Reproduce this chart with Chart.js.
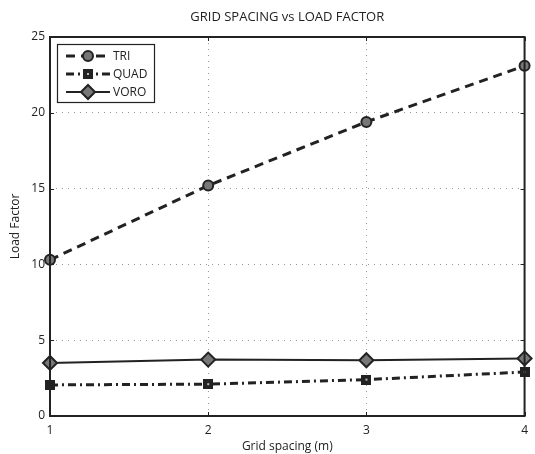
<!DOCTYPE html>
<html>
<head>
<meta charset="utf-8">
<script src="https://cdn.jsdelivr.net/npm/chart.js@4.4.1/dist/chart.umd.min.js"></script>
<style>
  html, body { margin: 0; padding: 0; background: #fff; }
  canvas { display: block; }
</style>
</head>
<body>
<canvas id="grafico" width="535" height="454"></canvas>
<script>
// valores
const espaciado = [1, 2, 3, 4];
const triValores = [10.3, 15.2, 19.4, 23.1];
const quadValores = [2.05, 2.1, 2.4, 2.9];
const voroValores = [3.5, 3.72, 3.68, 3.8];
const ticksY = [0, 5, 10, 15, 20, 25];
const ticksX = [1, 2, 3, 4];

const FUENTE = "'Open Sans', 'DejaVu Sans', sans-serif";
const NEGRO = '#222';
const GRIS = '#777';

// marcador cuadrado negro con punto claro al centro
function marcadorQuad() {
    const c = document.createElement('canvas');
    c.width = 10; c.height = 10;
    const g = c.getContext('2d');
    g.fillStyle = NEGRO;
    g.fillRect(0, 0, 10, 10);
    g.fillStyle = '#bbb';
    g.fillRect(4, 4, 2, 2);
    return c;
}
const imgQuad = marcadorQuad();

function puntos(xs, ys) {
    return xs.map((x, i) => ({ x: x, y: ys[i] }));
}

// caja del grafico, marcas de tick hacia adentro y leyenda
const cajaYLeyenda = {
    id: 'cajaYLeyenda',
    afterDraw(chart) {
        const ctx = chart.ctx;
        const a = chart.chartArea;
        const sx = chart.scales.x, sy = chart.scales.y;
        ctx.save();
        ctx.strokeStyle = NEGRO;
        ctx.lineWidth = 1;
        ctx.beginPath();
        ticksY.forEach(v => {
            const py = Math.round(sy.getPixelForValue(v)) + 0.5;
            ctx.moveTo(a.left, py); ctx.lineTo(a.left + 4, py);
            ctx.moveTo(a.right, py); ctx.lineTo(a.right - 4, py);
        });
        ticksX.forEach(v => {
            const px = Math.round(sx.getPixelForValue(v)) + 0.5;
            ctx.moveTo(px, a.bottom); ctx.lineTo(px, a.bottom - 4);
            ctx.moveTo(px, a.top); ctx.lineTo(px, a.top + 4);
        });
        ctx.stroke();
        ctx.lineWidth = 2;
        ctx.strokeRect(a.left, a.top, a.right - a.left, a.bottom - a.top);

        // titulo
        ctx.fillStyle = NEGRO;
        ctx.font = '13px ' + FUENTE;
        ctx.textAlign = 'center';
        ctx.textBaseline = 'middle';
        ctx.fillText('GRID SPACING vs LOAD FACTOR', (a.left + a.right) / 2, 17);

        // leyenda
        const lx = a.left + 7, ly = a.top + 7;
        ctx.fillStyle = '#fff';
        ctx.fillRect(lx, ly, 97, 58);
        ctx.lineWidth = 1.2;
        ctx.strokeStyle = NEGRO;
        ctx.strokeRect(lx + 0.5, ly + 0.5, 97, 58);
        chart.data.datasets.forEach((ds, i) => {
            const y = ly + 12 + i * 18;
            ctx.save();
            ctx.strokeStyle = ds.borderColor;
            ctx.lineWidth = ds.borderWidth;
            ctx.setLineDash(ds.borderDash || []);
            ctx.beginPath();
            ctx.moveTo(lx + 9, y); ctx.lineTo(lx + 53, y);
            ctx.stroke();
            ctx.restore();
            const mx = lx + 31;
            ctx.save();
            if (ds.pointStyle === 'circle') {
                ctx.beginPath();
                ctx.arc(mx, y, ds.pointRadius, 0, Math.PI * 2);
                ctx.fillStyle = ds.pointBackgroundColor;
                ctx.fill();
                ctx.lineWidth = ds.pointBorderWidth;
                ctx.strokeStyle = ds.pointBorderColor;
                ctx.stroke();
            } else if (ds.pointStyle === 'rectRot') {
                const r = ds.pointRadius;
                ctx.beginPath();
                ctx.moveTo(mx - r, y); ctx.lineTo(mx, y - r);
                ctx.lineTo(mx + r, y); ctx.lineTo(mx, y + r);
                ctx.closePath();
                ctx.fillStyle = ds.pointBackgroundColor;
                ctx.fill();
                ctx.lineWidth = ds.pointBorderWidth;
                ctx.strokeStyle = ds.pointBorderColor;
                ctx.stroke();
            } else {
                ctx.drawImage(ds.pointStyle, mx - 5, y - 5);
            }
            ctx.restore();
            ctx.fillStyle = NEGRO;
            ctx.font = '12px ' + FUENTE;
            ctx.textAlign = 'left';
            ctx.fillText(ds.label, lx + 56, y + 1);
        });
        ctx.restore();
    }
};

new Chart(document.getElementById('grafico'), {
    type: 'line',
    data: {
        datasets: [
            {
                label: 'TRI',
                data: puntos(espaciado, triValores),
                borderColor: NEGRO,
                borderWidth: 3,
                borderDash: [9, 6],
                pointStyle: 'circle',
                pointRadius: 5,
                pointBackgroundColor: GRIS,
                pointBorderColor: NEGRO,
                pointBorderWidth: 2
            },
            {
                label: 'QUAD',
                data: puntos(espaciado, quadValores),
                borderColor: NEGRO,
                borderWidth: 3,
                borderDash: [8, 4, 2, 4],
                pointStyle: imgQuad,
                pointRadius: 5
            },
            {
                label: 'VORO',
                data: puntos(espaciado, voroValores),
                borderColor: NEGRO,
                borderWidth: 2,
                pointStyle: 'rectRot',
                pointRadius: 7,
                pointBackgroundColor: GRIS,
                pointBorderColor: NEGRO,
                pointBorderWidth: 2
            }
        ]
    },
    options: {
        responsive: false,
        animation: false,
        clip: false,
        layout: { padding: { top: 37, right: 3, left: 0, bottom: 0 } },
        plugins: {
            legend: { display: false },
            tooltip: { enabled: false }
        },
        scales: {
            x: {
                type: 'linear',
                min: 1,
                max: 4,
                afterBuildTicks: s => { s.ticks = ticksX.map(v => ({ value: v })); },
                afterFit: s => { s.height = 38; },
                grid: { color: '#999', drawTicks: false, lineWidth: 1 },
                border: { display: false, dash: [1, 5] },
                ticks: { padding: 7, color: NEGRO, font: { family: FUENTE, size: 12 } },
                title: {
                    display: true,
                    text: 'Grid spacing (m)',
                    color: NEGRO,
                    font: { family: FUENTE, size: 12 },
                    padding: { top: 0, bottom: 0 }
                }
            },
            y: {
                min: 0,
                max: 25,
                afterBuildTicks: s => { s.ticks = ticksY.map(v => ({ value: v })); },
                afterFit: s => { s.width = 50; },
                grid: { color: '#999', drawTicks: false, lineWidth: 1 },
                border: { display: false, dash: [1, 5] },
                ticks: { padding: 5, color: NEGRO, font: { family: FUENTE, size: 12 } },
                title: {
                    display: true,
                    text: 'Load Factor',
                    color: NEGRO,
                    font: { family: FUENTE, size: 12 },
                    padding: { top: 8, bottom: 0 }
                }
            }
        }
    },
    plugins: [cajaYLeyenda]
});
</script>
</body>
</html>
